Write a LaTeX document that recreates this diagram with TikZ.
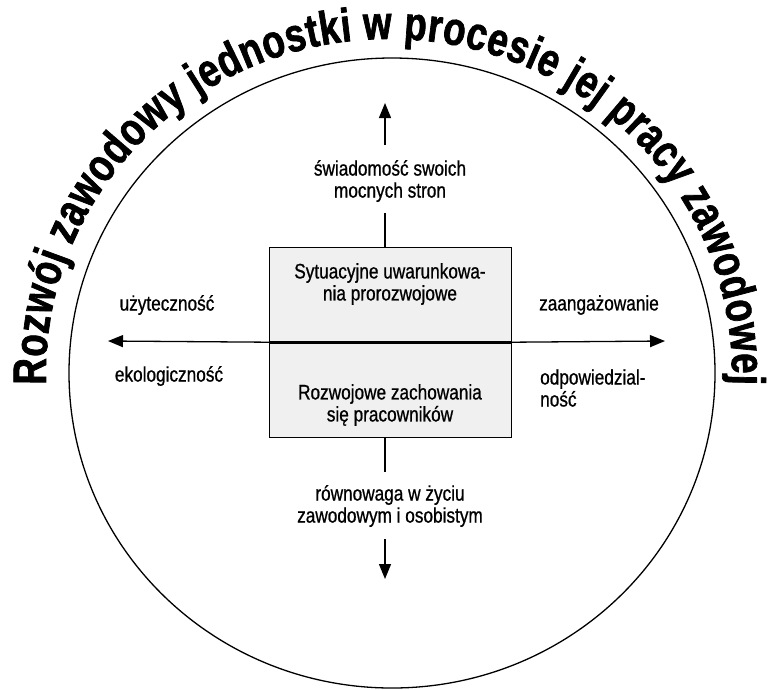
\documentclass[tikz,border=0pt]{standalone}
\usepackage{fontspec}
\setmainfont{Liberation Sans}[FakeStretch=0.82,FakeBold=0.8]
\newfontfamily\arcfont{Liberation Sans}[FakeStretch=0.78,FakeBold=1.5]
\usetikzlibrary{arrows.meta,decorations.text}
\newcommand\arcstyle{\arcfont\bfseries\fontsize{47}{47}\selectfont}

\begin{document}
\begin{tikzpicture}[x=1pt,y=-1pt,
  lbl/.style={font=\fontsize{21}{22}\selectfont, align=center, inner sep=0pt},
  panel/.style={draw, line width=1.2pt, fill=black!6, minimum width=242pt, inner sep=0pt},
  axis/.style={line width=1.3pt, -{Triangle[length=15pt,width=12pt]}},
  stem/.style={line width=1.3pt}]
\useasboundingbox (0,0) rectangle (775,689);

% outer ring
\draw[line width=1.3pt] (392,373) ellipse [x radius=323, y radius=315];

% title running along the ring
\path[decorate, decoration={text along path,
    text={|\arcstyle|Rozwój zawodowy jednostki w procesie jej pracy zawodowej},
    text align={fit to path}}]
  (389,373) ++(178:343 and 334)
  arc [start angle=178, end angle=362, x radius=343, y radius=334];

% central two-part box
\node[panel, minimum height=94pt, anchor=north west] (upper) at (269,247) {};
\node[panel, minimum height=96pt, anchor=north west] (lower) at (269,341) {};
\node[lbl] (uppertext) at (390,284) {Sytuacyjne uwarunkowa-\\nia prorozwojowe};
\node[lbl] (lowertext) at (390,405) {Rozwojowe zachowania\\się pracowników};

% horizontal axis
\coordinate (lefttip) at (108,341);
\coordinate (righttip) at (665,341);
\draw[axis] (upper.south west) -- (lefttip);
\draw[axis] (upper.south east) -- (righttip);
\draw[line width=3pt] (upper.south west) -- (upper.south east);

% vertical axis
\coordinate (topstem) at (385,247);
\coordinate (topstemend) at (385,213);
\coordinate (topfrom) at (385,145);
\coordinate (toptip) at (385,103);
\coordinate (botstem) at (385,437);
\coordinate (botstemend) at (385,472);
\coordinate (botfrom) at (385,539);
\coordinate (bottip) at (385,579);
\draw[stem] (topstem) -- (topstemend);
\draw[axis] (topfrom) -- (toptip);
\draw[stem] (botstem) -- (botstemend);
\draw[axis] (botfrom) -- (bottip);

% axis labels
\node[lbl] (strengths) at (390,181) {świadomość swoich\\mocnych stron};
\node[lbl] (balance) at (390,506) {równowaga w życiu\\zawodowym i osobistym};
\node[lbl] (utility) at (167,305) {użyteczność};
\node[lbl] (ecology) at (169,376) {ekologiczność};
\node[lbl] (engagement) at (599,305) {zaangażowanie};
\node[lbl, align=left, anchor=west] (responsibility) at (540,388) {odpowiedzial-\\ność};
\end{tikzpicture}
\end{document}
